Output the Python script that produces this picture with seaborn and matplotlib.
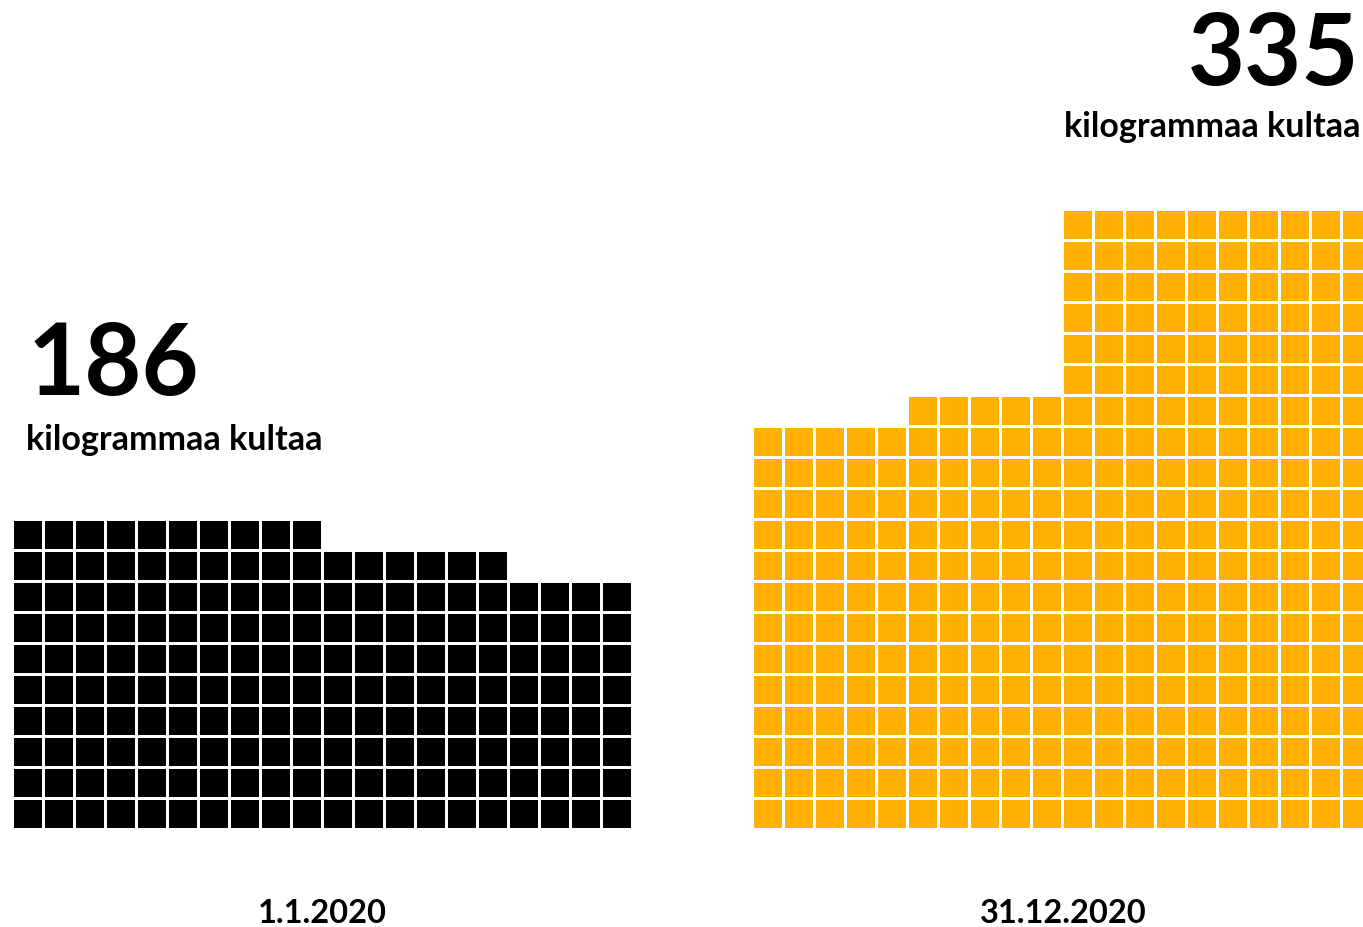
import numpy as np
import pandas as pd
import matplotlib
matplotlib.use('Agg')
import matplotlib.pyplot as plt
import seaborn as sns
from matplotlib.colors import ListedColormap

# column heights (kilograms stacked in rows, 1 square = 1 kg)
start_heights = [10] * 10 + [9] * 6 + [8] * 4      # 186
end_heights = [13] * 5 + [14] * 5 + [20] * 10      # 335
start_total = 186
end_total = 335
start_label = '1.1.2020'
end_label = '31.12.2020'
unit_label = 'kilogrammaa kultaa'
start_color = '#000000'
end_color = '#FFB000'

sns.set_theme(style='white')
plt.rcParams['font.family'] = ['Lato', 'DejaVu Sans']

W, H = 1363, 928
fig = plt.figure(figsize=(W / 100, H / 100), dpi=100)
fig.patch.set_facecolor('white')


def waffle_frame(heights, n_rows):
    grid = np.zeros((n_rows, len(heights)))
    for c, h in enumerate(heights):
        grid[n_rows - h:, c] = 1
    return pd.DataFrame(grid)


def px_axes(x0, y_top, w, h):
    return fig.add_axes([x0 / W, 1 - (y_top + h) / H, w / W, h / H])


cell = 31
for heights, color, x0 in [(start_heights, start_color, 12), (end_heights, end_color, 752)]:
    n_rows = max(heights)
    df = waffle_frame(heights, n_rows)
    ax = px_axes(x0, 830 - n_rows * cell, len(heights) * cell, n_rows * cell)
    sns.heatmap(df, mask=(df == 0), cmap=ListedColormap([color]), cbar=False,
                linewidths=1.0, linecolor='white', square=True, ax=ax)
    ax.set_axis_off()


def ftext(x, y, s, **kw):
    fig.text(x / W, 1 - y / H, s, va='baseline', color='black', **kw)


ftext(27, 395, str(start_total), fontsize=71, fontweight='bold', ha='left')
ftext(26, 450, unit_label, fontsize=24.5, fontweight='bold', ha='left')
ftext(1359, 85, str(end_total), fontsize=71, fontweight='bold', ha='right')
ftext(1361, 137, unit_label, fontsize=24.5, fontweight='bold', ha='right')
ftext(322, 923, start_label, fontsize=23.5, fontweight='bold', ha='center')
ftext(1063, 923, end_label, fontsize=23.5, fontweight='bold', ha='center')

fig.savefig('out.png', dpi=100, facecolor='white')
